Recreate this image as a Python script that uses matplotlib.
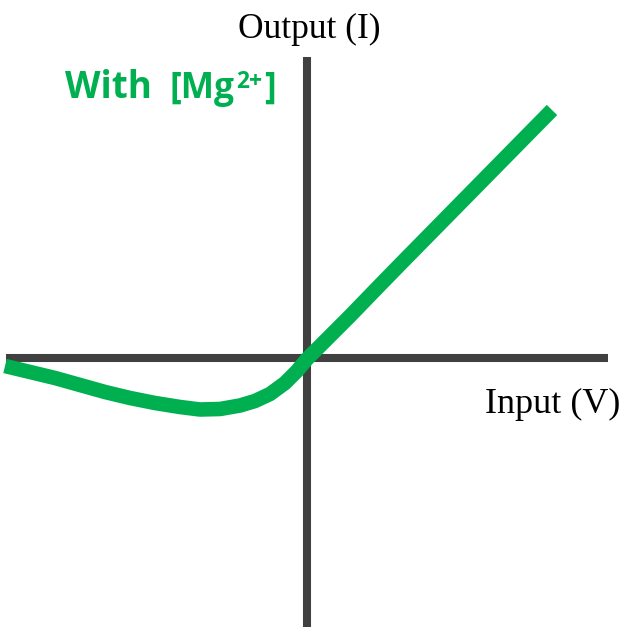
import matplotlib
matplotlib.use("Agg")
import matplotlib.pyplot as plt

# curve (input V, output I), arbitrary units
v = [-30.2, -27.7, -25.2, -22.7, -20.2, -17.7, -15.2, -12.7, -10.7, -8.7,
     -6.7, -5.2, -3.7, -2.2, -1.0, 0.0, 1.3, 2.8, 4.3, 5.8, 7.3, 9.3,
     12.3, 15.3, 18.3, 21.3, 24.5]
i = [-0.8, -1.4, -2.0, -2.7, -3.4, -4.0, -4.5, -4.9, -5.15, -5.1,
     -4.75, -4.3, -3.6, -2.5, -1.3, -0.1, 1.2, 2.7, 4.2, 5.75, 7.3, 9.35,
     12.4, 15.45, 18.5, 21.55, 24.8]

x_label = "Input (V)"
y_label = "Output (I)"
curve_label = ["With", "[Mg", "2+", "]"]

green = "#00B050"
gray = "#404040"

fig = plt.figure(figsize=(6.34, 6.27), dpi=100)
ax = fig.add_axes([0, 0, 1, 1])
ax.set_xlim(-30.7, 32.7)
ax.set_ylim(-26.9, 35.8)

ax.plot([-30.1, 30.1], [0, 0], color=gray, lw=5.8, solid_capstyle="butt")
ax.plot([0, 0], [-27, 30.1], color=gray, lw=5.8, solid_capstyle="butt")
ax.plot(v, i, color=green, lw=10.5, solid_capstyle="butt",
        solid_joinstyle="round")

ax.text(0.2, 32.0, y_label, ha="center", va="baseline",
        family="Liberation Serif", fontsize=25.5)
ax.text(24.6, -5.5, x_label, ha="center", va="baseline",
        family="Liberation Serif", fontsize=26)

# label with superscript, pieced together
lbl_kw = dict(family=["Open Sans", "DejaVu Sans"], weight="bold", color=green)
ax.text(-24.2, 26.0, curve_label[0], ha="left", va="baseline",
        fontsize=26.5, **lbl_kw)
t_mg = ax.text(-13.8, 26.0, curve_label[1], ha="left", va="baseline",
               fontsize=25.5, **lbl_kw)
t_sup = ax.annotate(curve_label[2], xy=(1, 27.0), xycoords=(t_mg, "data"),
                    xytext=(1.5, 0), textcoords="offset points",
                    ha="left", va="baseline", fontsize=16.5, **lbl_kw)
ax.annotate(curve_label[3], xy=(1, 26.0), xycoords=(t_sup, "data"),
            xytext=(1.5, 0), textcoords="offset points",
            ha="left", va="baseline", fontsize=25.5, **lbl_kw)

ax.axis("off")
fig.savefig("out.png", dpi=100)
